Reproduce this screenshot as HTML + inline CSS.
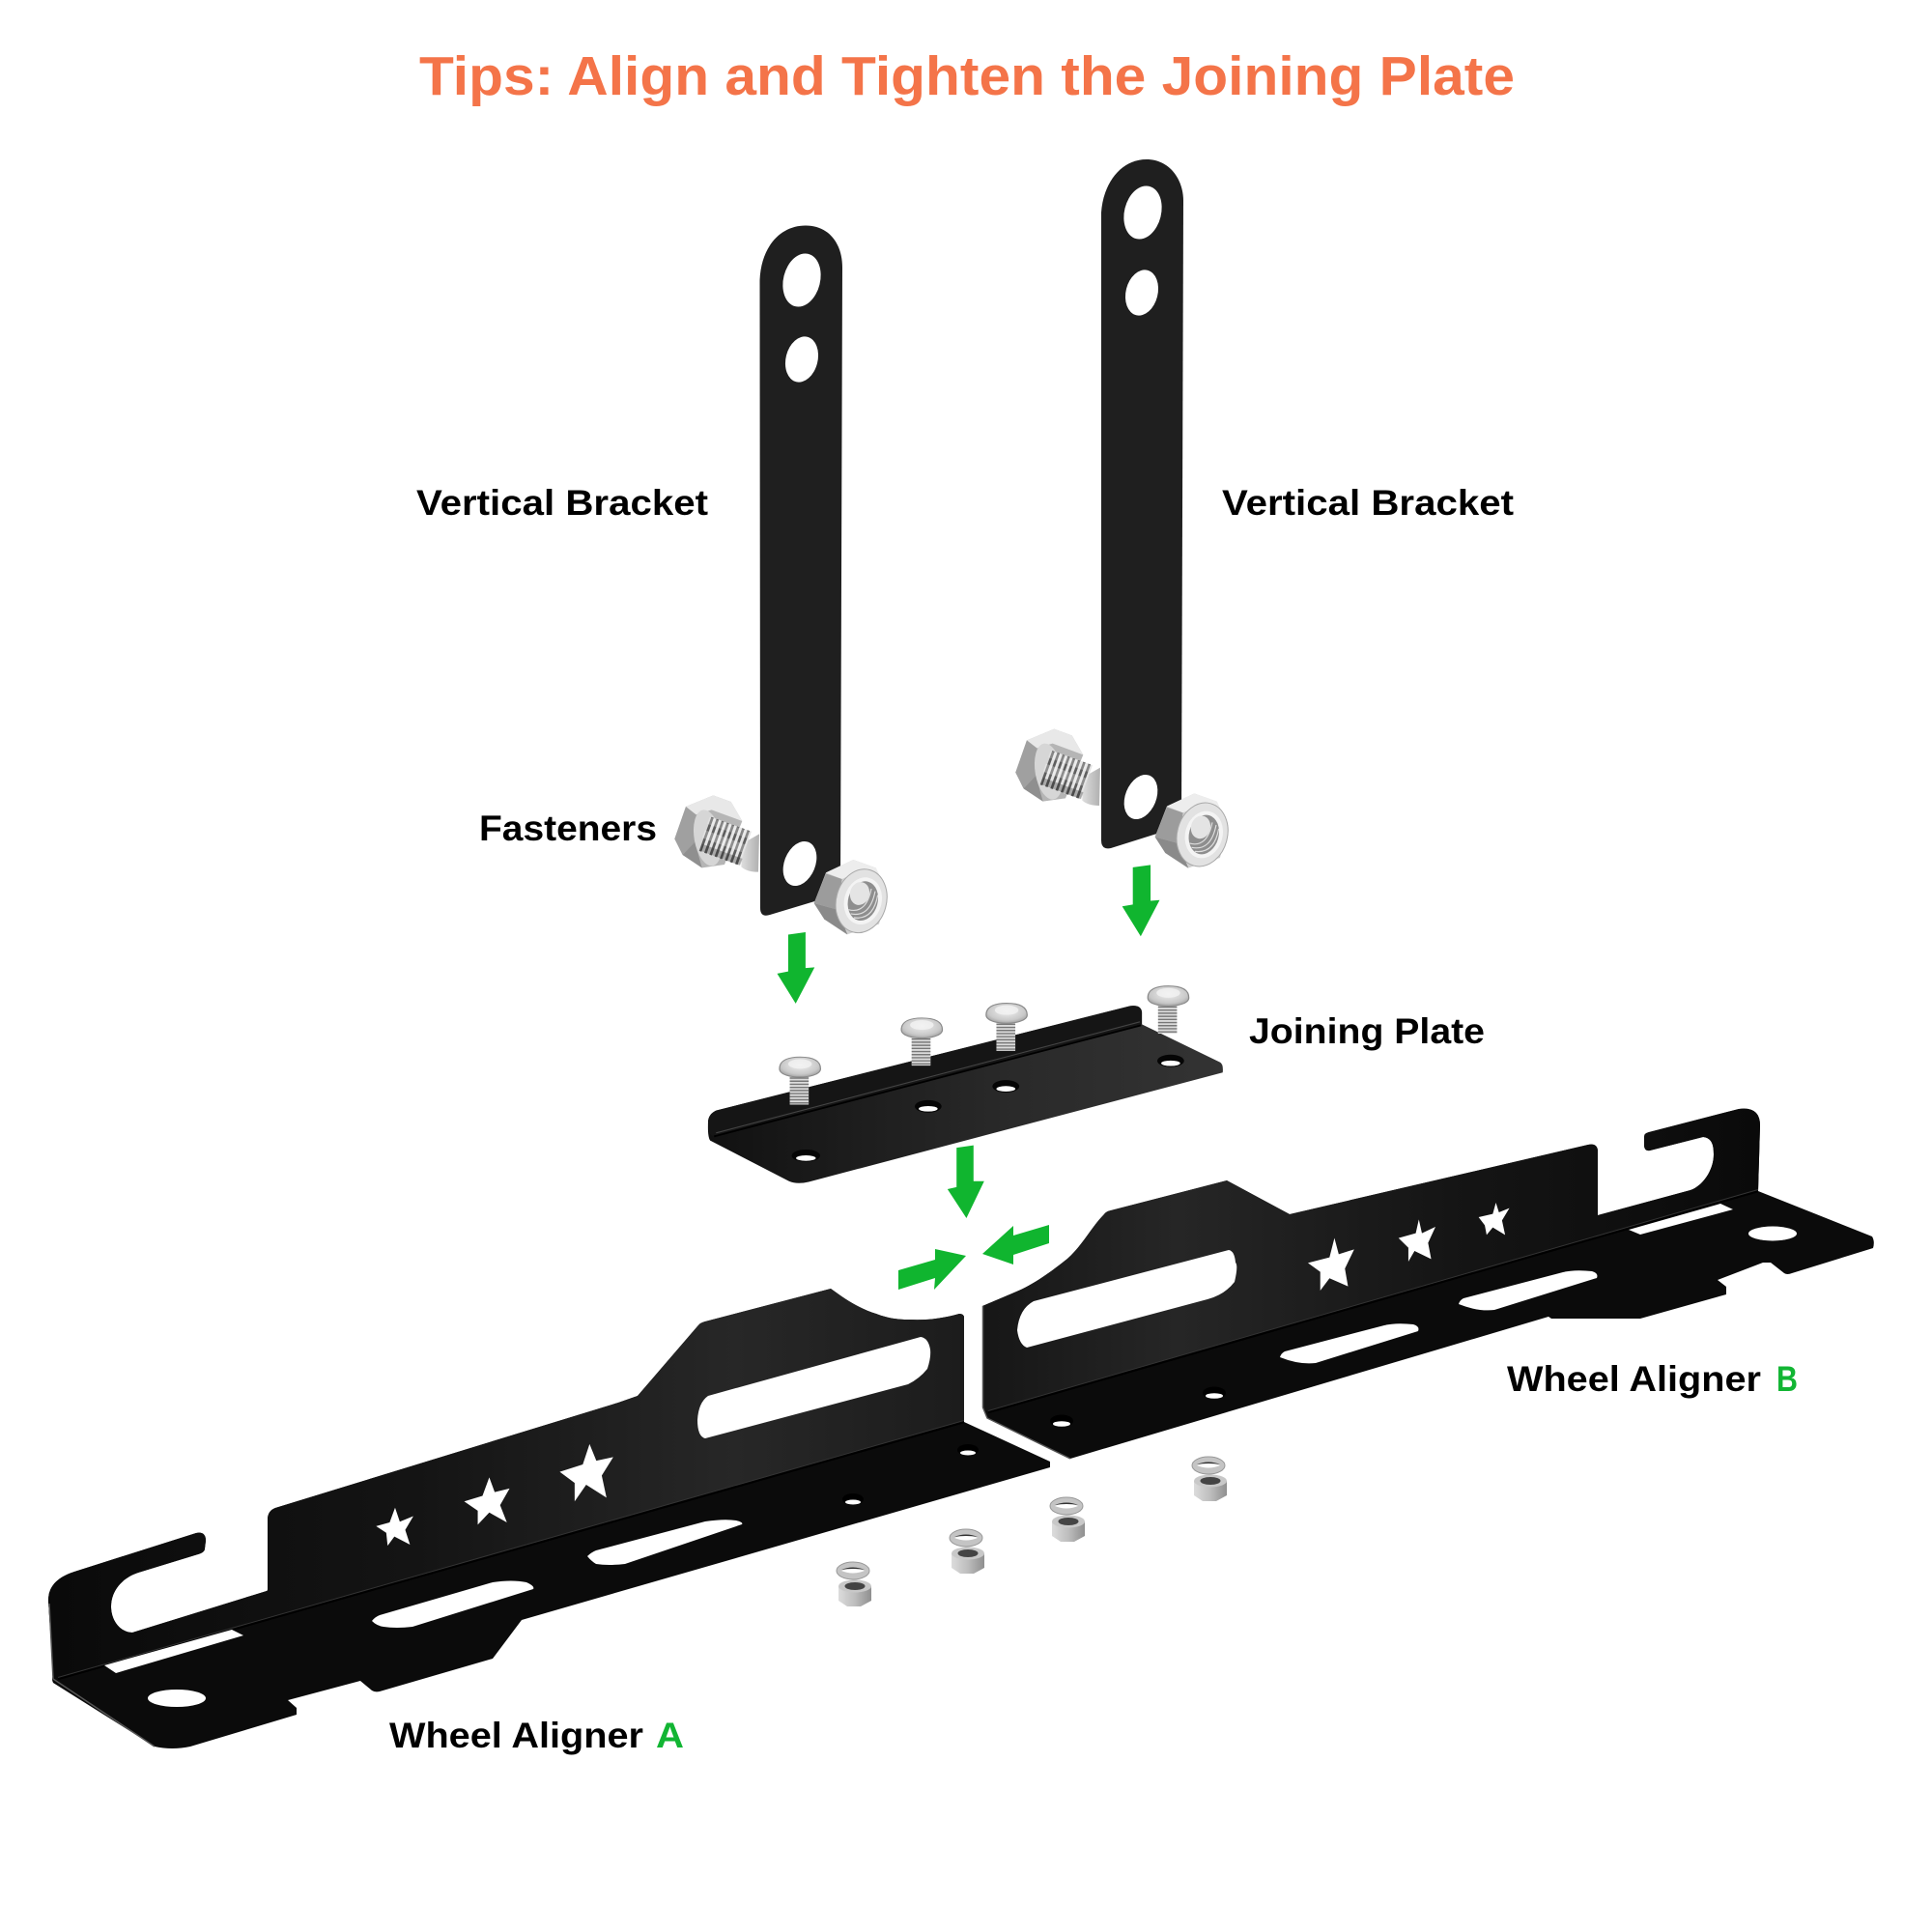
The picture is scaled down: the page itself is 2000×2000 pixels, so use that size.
<!DOCTYPE html>
<html><head><meta charset="utf-8"><title>Tips: Align and Tighten the Joining Plate</title>
<style>html,body{margin:0;padding:0;background:#fff}svg{display:block}text{font-family:"Liberation Sans",sans-serif;font-weight:700}</style></head>
<body>
<svg xmlns="http://www.w3.org/2000/svg" width="2000" height="2000" viewBox="0 0 2000 2000">
<defs>
<linearGradient id="fa" gradientUnits="userSpaceOnUse" x1="50" y1="0" x2="998" y2="0"><stop offset="0" stop-color="#0a0a0a"/><stop offset=".4" stop-color="#141414"/><stop offset=".75" stop-color="#272727"/><stop offset="1" stop-color="#1c1c1c"/></linearGradient>
<linearGradient id="fb" gradientUnits="userSpaceOnUse" x1="1017" y1="0" x2="1822" y2="0"><stop offset="0" stop-color="#161616"/><stop offset=".25" stop-color="#262626"/><stop offset=".6" stop-color="#151515"/><stop offset="1" stop-color="#0a0a0a"/></linearGradient>
<linearGradient id="jp" gradientUnits="userSpaceOnUse" x1="130" y1="0" x2="1435" y2="0"><stop offset="0" stop-color="#111"/><stop offset=".6" stop-color="#2a2a2a"/><stop offset="1" stop-color="#333"/></linearGradient>
<linearGradient id="sh" x1="0" y1="0" x2="1" y2="0"><stop offset="0" stop-color="#dedede"/><stop offset="1" stop-color="#b0b0b0"/></linearGradient>
<linearGradient id="nb" x1="0" y1="0" x2="1" y2="0"><stop offset="0" stop-color="#dcdcdc"/><stop offset=".5" stop-color="#bdbdbd"/><stop offset="1" stop-color="#8f8f8f"/></linearGradient>
<radialGradient id="hd" cx=".5" cy=".4" r=".7"><stop offset="0" stop-color="#f0f0f0"/><stop offset=".65" stop-color="#c8c8c8"/><stop offset="1" stop-color="#8c8c8c"/></radialGradient>
<g id="bolt">
 <polygon points="25,175 60,75 145,40 200,60 235,120 180,255 110,265 50,225" fill="#b5b5b5"/>
 <polygon points="60,75 145,40 200,60 235,120 140,85 90,100" fill="#e8e8e8"/>
 <polygon points="25,175 60,75 92,100 88,185 50,225" fill="#a0a0a0"/>
 <polygon points="50,225 88,185 110,265" fill="#8f8f8f"/>
 <ellipse cx="128" cy="172" rx="42" ry="88" fill="#d6d6d6" transform="rotate(-10 128 172)"/>
 <path d="M235 190 L288 160 L285 278 Q250 278 232 262Z" fill="url(#sh)"/>
 <path d="M120 160 L245 205" stroke="#e4e4e4" stroke-width="112" fill="none"/>
 <path d="M120 160 L245 205" stroke="#5e5e5e" stroke-width="112" stroke-dasharray="8 9" fill="none"/>
 <path d="M130 118 L255 163" stroke="#fff" stroke-opacity=".25" stroke-width="22" fill="none"/>
 <path d="M108 202 L232 247" stroke="#222" stroke-opacity=".3" stroke-width="22" fill="none"/>
 <path d="M115 160 L240 205" stroke="#fff" stroke-opacity=".3" stroke-width="26" fill="none"/>
</g>
<g id="nut">
 <polygon points="458,375 495,280 580,240 650,265 685,340 660,440 560,472 490,425" fill="#cfcfcf"/>
 <polygon points="495,280 580,240 650,265 685,340 600,275 545,300" fill="#ededed"/>
 <polygon points="458,375 495,283 545,300 530,395" fill="#9c9c9c"/>
 <polygon points="458,375 530,395 562,472 490,425" fill="#8a8a8a"/>
 <ellipse cx="605" cy="368" rx="78" ry="100" fill="#e2e2e2" stroke="#a8a8a8" stroke-width="3" transform="rotate(15 605 368)"/>
 <ellipse cx="610" cy="368" rx="58" ry="74" fill="#f4f4f4" transform="rotate(15 610 368)"/>
 <ellipse cx="610" cy="368" rx="46" ry="62" fill="#8e8e8e" transform="rotate(15 610 368)"/>
 <ellipse cx="600" cy="345" rx="30" ry="36" fill="#e4e4e4" transform="rotate(15 600 345)"/>
 <g fill="none" stroke="#dedede" stroke-width="3.500">
  <path d="M565 395 Q620 410 636 330"/><path d="M572 408 Q632 420 648 338"/><path d="M582 420 Q642 428 656 350"/>
 </g>
</g>
<g id="sb">
 <path d="M-2 0 V108" stroke="#dcdcdc" stroke-width="48" fill="none"/>
 <path d="M-2 20 V108" stroke="#777" stroke-width="48" stroke-dasharray="4 5" fill="none"/>
 <path d="M-52 4 C-52 -24 -24 -30 0 -30 C26 -30 52 -24 52 4 C52 22 20 28 0 28 C-22 28 -52 22 -52 4Z" fill="url(#hd)" stroke="#8a8a8a" stroke-width="3"/>
 <ellipse cx="0" cy="-10" rx="30" ry="14" fill="#f3f3f3" opacity=".8"/>
</g>
<g id="wn">
 <ellipse cx="0" cy="0" rx="17" ry="9" fill="#c4c4c4" stroke="#999" stroke-width="1"/>
 <path d="M-12 0 Q0 -6 12 0 Q0 5 -12 0Z" fill="#fff"/>
 <path d="M-12 -1 Q0 -6 12 -1 Q0 -3 -12 -1Z" fill="#333"/>
 <path d="M-15 16 L19 16 L19 31 L8 37 L-6 37 L-15 31Z" fill="url(#nb)"/>
 <ellipse cx="2" cy="16" rx="17" ry="6.500" fill="#c8c8c8"/>
 <ellipse cx="2" cy="16" rx="10.500" ry="4" fill="#444"/>
</g>
</defs>

<text x="434" y="98" font-size="57" fill="#f47449" textLength="1134" lengthAdjust="spacingAndGlyphs">Tips: Align and Tighten the Joining Plate</text>

<!-- vertical brackets -->
<path d="M786.500 290 C788 255 808 233.500 834 233.500 C858 233.500 872 252 872 277 L870 925 L797 947 Q787 950 787 940Z" fill="#1f1f1f"/>
<ellipse cx="830" cy="290" rx="19" ry="28" fill="#fff" transform="rotate(14 830 290)"/>
<ellipse cx="830" cy="372" rx="16.500" ry="24" fill="#fff" transform="rotate(14 830 372)"/>
<ellipse cx="828" cy="894" rx="16" ry="24" fill="#fff" transform="rotate(22 828 894)"/>
<path d="M1140 220 C1142 190 1160 165 1187 165 C1210 165 1225 185 1225 208 L1223 855 L1150 878 Q1140 880 1140 870Z" fill="#1f1f1f"/>
<ellipse cx="1183" cy="220" rx="19" ry="28" fill="#fff" transform="rotate(14 1183 220)"/>
<ellipse cx="1182" cy="303" rx="16.500" ry="24" fill="#fff" transform="rotate(14 1182 303)"/>
<ellipse cx="1181" cy="825" rx="16" ry="24" fill="#fff" transform="rotate(22 1181 825)"/>

<g transform="translate(690,810) scale(.3333)">
 <use href="#bolt"/><use href="#nut"/>
 <use href="#bolt" x="1059" y="-206"/><use href="#nut" x="1059" y="-206"/>
</g>

<g transform="translate(680,730) scale(.4082,.3571)">
 <!-- joining plate -->
 <path d="M130 1205 Q132 1185 150 1175 L1200 872 Q1228 868 1230 890 L1230 925 L1428 1035 Q1437 1040 1435 1065 L385 1382 Q355 1390 335 1380 L135 1262 Q128 1250 130 1205Z" fill="url(#jp)"/>
 <path d="M130 1205 Q132 1185 150 1175 L1200 872 Q1228 868 1230 890 L1230 925 L145 1250 Q128 1250 130 1205Z" fill="#151515"/>
 <path d="M145 1250 L1228 928" stroke="#000" stroke-width="5" fill="none"/>
 <path d="M150 1240 L1225 918" stroke="#444" stroke-width="3" fill="none"/>
 <g fill="#050505">
  <ellipse cx="378" cy="1306" rx="36" ry="18"/><ellipse cx="688" cy="1163" rx="34" ry="18"/><ellipse cx="885" cy="1105" rx="34" ry="18"/><ellipse cx="1303" cy="1031" rx="34" ry="18"/>
 </g>
 <g fill="#fff">
  <ellipse cx="378" cy="1313" rx="25" ry="8"/><ellipse cx="688" cy="1170" rx="24" ry="8"/><ellipse cx="885" cy="1112" rx="24" ry="8"/><ellipse cx="1303" cy="1038" rx="24" ry="8"/>
 </g>
 <use href="#sb" x="363" y="1050"/><use href="#sb" x="672" y="937"/><use href="#sb" x="887" y="894"/><use href="#sb" x="1297" y="844"/>
 <g fill="#10b52f">
  <polygon points="333,665 377,658 377,762 400,760 352,865 305,778 333,772"/>
  <polygon points="1207,470 1252,463 1252,567 1275,565 1227,670 1180,583 1207,578"/>
  <polygon points="760,1283 803,1276 803,1380 830,1380 785,1487 737,1403 760,1397"/>
 </g>
</g>

<!-- Wheel Aligner A -->
<path d="M50 1657 C50 1640 62 1632 77 1627 L203 1587 Q213 1585 213 1595 L212 1603 Q212 1607 205 1609 L143 1628 C125 1634 115 1648 115 1663 C115 1678 125 1690 137 1690 L276 1647 Q277 1647 277 1645 L277 1573 Q277 1564 285 1561 L640 1452 L660 1445 L722 1373 Q725 1369 730 1368 L860 1334 C875 1345 890 1355 907 1360 C920 1365 930 1366 940 1366 C960 1367 975 1365 993 1360 Q998 1360 998 1364 L998 1472 L1087 1513 L1087 1519 L540 1677 L510 1717 L393 1751 Q388 1752 385 1750 L373 1740 L298 1760 L307 1768 L307 1775 L197 1808 Q178 1812 160 1808 L55 1742 Q53 1738 55 1735Z" fill="#0b0b0b"/>
<path d="M50 1657 C50 1640 62 1632 77 1627 L203 1587 Q213 1585 213 1595 L212 1603 Q212 1607 205 1609 L143 1628 C125 1634 115 1648 115 1663 C115 1678 125 1690 137 1690 L276 1647 Q277 1647 277 1645 L277 1573 Q277 1564 285 1561 L640 1452 L660 1445 L722 1373 Q725 1369 730 1368 L860 1334 C875 1345 890 1355 907 1360 C920 1365 930 1366 940 1366 C960 1367 975 1365 993 1360 Q998 1360 998 1364 L998 1472 L60 1738 L55 1735Z" fill="url(#fa)"/>
<path d="M60 1738 L998 1472" stroke="#000" stroke-width="2.500" fill="none"/>
<path d="M60 1736.500 L998 1470.500" stroke="#333" stroke-width="1" fill="none"/>
<path d="M51 1660 L55 1738 L160 1808" stroke="#555" stroke-width="1.500" fill="none"/>
<g fill="#fff">
 <path d="M722 1470 Q722 1487 730 1489 L940 1433 Q952 1427 960 1417 Q964 1405 963 1397 Q961 1385 953 1384 L733 1445 Q723 1452 722 1470Z"/>
 <polygon points="108,1724 240,1687 252,1693 120,1732"/>
 <path d="M385 1678 Q388 1674 393 1672 L510 1638 Q530 1635 545 1638 Q554 1642 552 1645 L427 1684 Q410 1686 397 1684 Q390 1683 385 1678Z"/>
 <path d="M608 1611 Q612 1607 617 1605 L730 1575 Q750 1572 762 1574 Q770 1576 768 1578 L647 1619 Q630 1621 617 1619 Q612 1616 608 1611Z"/>
 <ellipse cx="183" cy="1758" rx="30" ry="9"/>
</g>
<g transform="translate(0,1250) scale(.7015,.3827)" fill="#fff">
 <polygon points="583,812 590,850 610,835 598,872 605,912 582,890 572,915 570,880 555,862 575,852"/>
 <polygon points="722,730 730,770 752,760 738,805 748,852 722,825 705,858 705,820 685,795 712,780"/>
 <polygon points="870,640 880,685 905,675 888,725 895,785 865,750 848,795 848,745 826,715 860,695"/>
</g>
<g fill="#000"><ellipse cx="1002" cy="1501" rx="11" ry="6"/><ellipse cx="883" cy="1552" rx="11" ry="6"/></g>
<g fill="#fff"><ellipse cx="1002" cy="1504" rx="8" ry="2.500"/><ellipse cx="883" cy="1555" rx="8" ry="2.500"/></g>

<text x="403" y="1809" font-size="37" fill="#000" textLength="263" lengthAdjust="spacingAndGlyphs">Wheel Aligner</text>
<text x="679" y="1809" font-size="37" fill="#12b533" textLength="29" lengthAdjust="spacingAndGlyphs">A</text>

<!-- Wheel Aligner B -->
<path d="M1017 1352 L1050 1338 C1070 1330 1090 1315 1105 1303 C1120 1290 1130 1270 1143 1257 Q1145 1254 1150 1253 L1270 1222 L1335 1257 L1644 1185 Q1654 1183 1654 1192 L1654 1258 L1750 1232 C1762 1228 1774 1212 1774 1195 C1774 1185 1772 1178 1763 1177 L1708 1191 Q1702 1192 1702 1185 L1702 1177 Q1702 1173 1707 1172 L1800 1148 Q1822 1145 1822 1165 L1820 1233 L1938 1280 Q1941 1285 1939 1292 L1855 1318 Q1850 1320 1847 1318 L1833 1307 L1825 1307 L1778 1325 L1787 1332 L1787 1340 L1698 1365 L1606 1365 L1603 1363 L1108 1510 L1022 1468 L1017 1457Z" fill="#0b0b0b"/>
<path d="M1017 1352 L1050 1338 C1070 1330 1090 1315 1105 1303 C1120 1290 1130 1270 1143 1257 Q1145 1254 1150 1253 L1270 1222 L1335 1257 L1644 1185 Q1654 1183 1654 1192 L1654 1258 L1750 1232 C1762 1228 1774 1212 1774 1195 C1774 1185 1772 1178 1763 1177 L1708 1191 Q1702 1192 1702 1185 L1702 1177 Q1702 1173 1707 1172 L1800 1148 Q1822 1145 1822 1165 L1820 1233 L1023 1462 L1017 1457Z" fill="url(#fb)"/>
<path d="M1023 1462 L1820 1233" stroke="#000" stroke-width="2.500" fill="none"/>
<path d="M1023 1460.500 L1820 1231.500" stroke="#333" stroke-width="1" fill="none"/>
<path d="M1017.500 1352 L1017.500 1457 L1022 1468 L1108 1510" stroke="#555" stroke-width="1.500" fill="none"/>
<g fill="#fff">
 <path d="M1053 1377 Q1055 1392 1063 1395 L1250 1345 Q1268 1340 1278 1327 Q1282 1310 1279 1307 Q1278 1295 1272 1294 L1070 1347 Q1055 1355 1053 1377Z"/>
 <path d="M1325 1405 Q1345 1413 1362 1411 L1468 1378 Q1470 1373 1463 1371 Q1445 1369 1433 1372 L1330 1399 Q1326 1401 1325 1405Z"/>
 <path transform="translate(185,-55)" d="M1325 1405 Q1345 1413 1362 1411 L1468 1378 Q1470 1373 1463 1371 Q1445 1369 1433 1372 L1330 1399 Q1326 1401 1325 1405Z"/>
 <polygon points="1686,1273 1781,1246 1794,1252 1698,1278"/>
 <ellipse cx="1835" cy="1277" rx="25" ry="7.500"/>
</g>
<g transform="translate(1000,1100) scale(.6378,.3333)" fill="#fff">
 <polygon points="598,545 605,595 630,580 615,640 620,695 590,670 575,708 575,650 555,622 590,605"/>
 <polygon points="735,487 740,530 762,510 750,560 755,610 728,585 718,618 718,575 702,545 730,530"/>
 <polygon points="860,435 865,465 882,452 870,490 875,535 855,512 845,535 842,505 832,480 855,470"/>
</g>
<g fill="#000"><ellipse cx="1099" cy="1471" rx="12" ry="6.500"/><ellipse cx="1257" cy="1442" rx="12" ry="6.500"/></g>
<g fill="#fff"><ellipse cx="1099" cy="1474" rx="9" ry="2.800"/><ellipse cx="1257" cy="1445" rx="9" ry="2.800"/></g>

<polygon fill="#10b52f" points="1086,1268 1086,1287 1049,1299 1049,1309 1017,1298 1049,1269 1049,1279"/>
<polygon fill="#10b52f" points="930,1315 968,1304 968,1293 1000,1300 967,1335 968,1323 930,1335"/>

<text x="1560" y="1440" font-size="37" fill="#000" textLength="263" lengthAdjust="spacingAndGlyphs">Wheel Aligner</text>
<text x="1839" y="1440" font-size="37" fill="#12b533" textLength="22" lengthAdjust="spacingAndGlyphs">B</text>

<use href="#wn" x="883" y="1626"/>
<use href="#wn" x="1000" y="1592"/>
<use href="#wn" x="1104" y="1559"/>
<use href="#wn" x="1251" y="1517"/>

<text x="431" y="533" font-size="37" fill="#000" textLength="302" lengthAdjust="spacingAndGlyphs">Vertical Bracket</text>
<text x="1265" y="533" font-size="37" fill="#000" textLength="302" lengthAdjust="spacingAndGlyphs">Vertical Bracket</text>
<text x="496" y="870" font-size="37" fill="#000" textLength="184" lengthAdjust="spacingAndGlyphs">Fasteners</text>
<text x="1293" y="1080" font-size="37" fill="#000" textLength="244" lengthAdjust="spacingAndGlyphs">Joining Plate</text>
</svg>
</body></html>
